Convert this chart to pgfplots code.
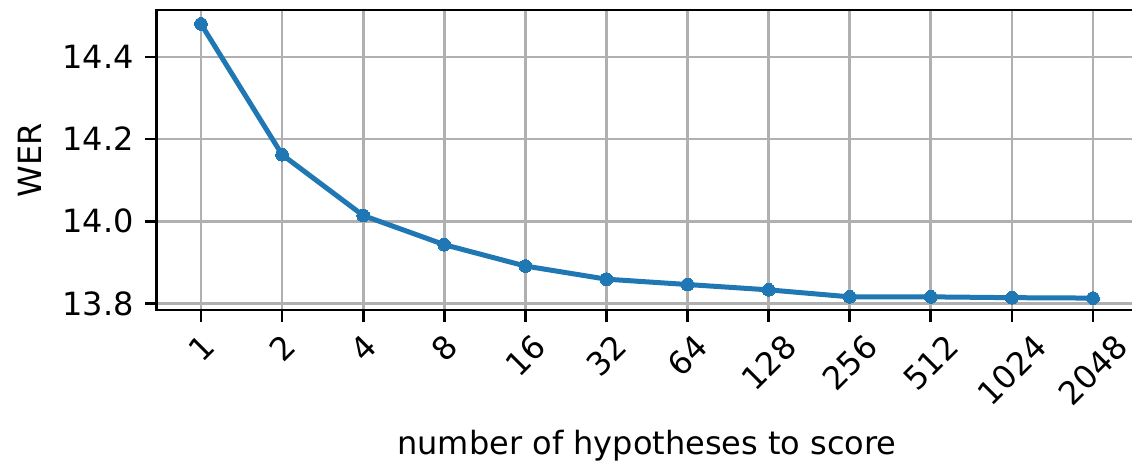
\documentclass[border=0pt]{standalone}
\usepackage{fontspec}
\setmainfont{DejaVu Sans}
\usepackage{pgfplots}
\pgfplotsset{compat=1.18}
\definecolor{mplblue}{HTML}{1F77B4}
\definecolor{mplgrid}{HTML}{B0B0B0}
\newcommand{\R}[1]{\rotatebox{45}{#1}}
\begin{document}
\fontsize{16}{19}\selectfont
\begin{tikzpicture}
\begin{axis}[
  name=ax, at={(0,0)}, anchor=south west,
  width=490.6pt, height=150pt, scale only axis,
  xmin=-0.55, xmax=11.55, ymin=13.784, ymax=14.514,
  xtick={0,...,11},
  xticklabels={\R{1},\R{2},\R{4},\R{8},\R{16},\R{32},\R{64},\R{128},\R{256},\R{512},\R{1024},\R{2048}},
  ytick={13.8,14.0,14.2,14.4},
  yticklabel style={/pgf/number format/.cd, fixed, fixed zerofill, precision=1, assume math mode=true},
  xticklabel style={anchor=north},
  tick align=outside, major tick length=5.8pt,
  tick pos=left,
  grid=major, grid style={mplgrid, line width=1.33pt},
  axis line style={black, line width=1.33pt},
  tick style={black, line width=1.33pt},
  font=\fontsize{16}{19}\selectfont,
  xlabel={number of hypotheses to score}, ylabel={WER},
  every axis x label/.style={at={(axis description cs:0.5,-0.4833)}, anchor=base},
  every axis y label/.style={at={(axis description cs:-0.1288,0.5)}, rotate=90, anchor=center},
]
\addplot[mplblue, line width=2.5pt, line join=round, mark=*, mark size=3.2pt, mark options={solid, fill=mplblue, draw=mplblue, line width=0pt}] coordinates {
(0,14.480) (1,14.162) (2,14.014) (3,13.943) (4,13.891) (5,13.859)
(6,13.846) (7,13.833) (8,13.816) (9,13.816) (10,13.814) (11,13.813)
};
\end{axis}
\pgfresetboundingbox
\path[use as bounding box] (-78.2pt,-76pt) rectangle (487.8pt,155pt);
\end{tikzpicture}
\end{document}
